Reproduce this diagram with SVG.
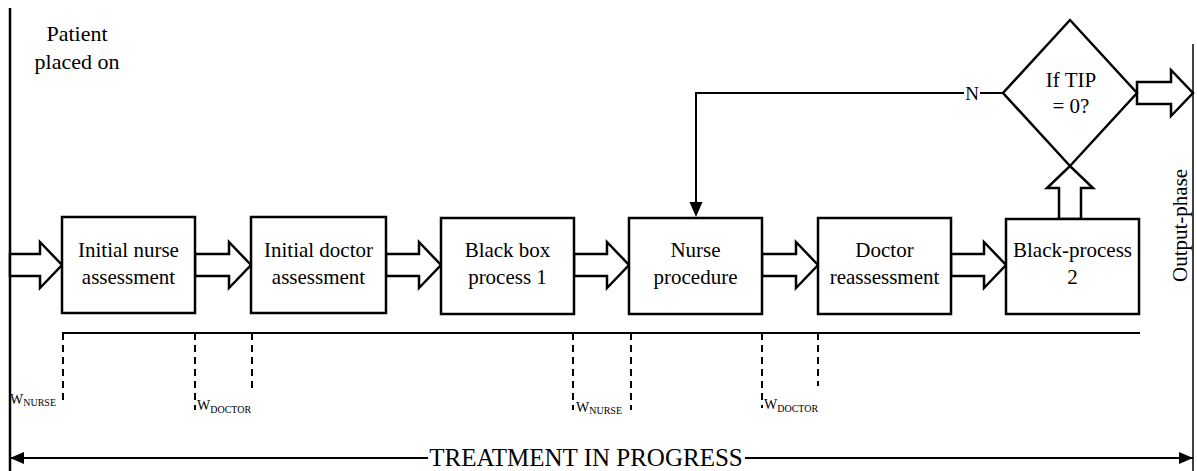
<svg xmlns="http://www.w3.org/2000/svg" width="1197" height="471" viewBox="0 0 1197 471" font-family="'Liberation Serif', 'DejaVu Serif', serif">
  <defs>
    <style>
      text { font-family: 'Liberation Serif', 'DejaVu Serif', serif; fill: #000; }
      .box { fill: #fff; stroke: #000; stroke-width: 2.5; }
      .blk { fill: #fff; stroke: #000; stroke-width: 2.5; stroke-linejoin: miter; }
      .lbl { font-size: 21px; text-anchor: middle; }
      .ln { fill: none; stroke: #000; stroke-width: 2; }
      .dash { fill: none; stroke: #000; stroke-width: 2; stroke-dasharray: 7 5; }
      .w { font-size: 14px; }
      .sub { font-size: 10px; }
    </style>
    <marker id="tip" viewBox="0 0 14 12" refX="14" refY="6" markerWidth="14" markerHeight="12" markerUnits="userSpaceOnUse" orient="auto-start-reverse">
      <path d="M0,0 L14,6 L0,12 Z" fill="#000"/>
    </marker>
  </defs>

  <rect width="1197" height="471" fill="#fff"/>

  <!-- frame lines -->
  <g id="frame">
    <line x1="10" y1="8" x2="10" y2="471" stroke="#000" stroke-width="2.5"/>
    <line x1="1193" y1="44" x2="1193" y2="471" stroke="#000" stroke-width="1.5"/>
  </g>

  <g id="start-label">
    <text x="77" y="41" font-size="22" text-anchor="middle">Patient</text>
    <text x="77" y="69" font-size="22" text-anchor="middle">placed on</text>
  </g>

  <g id="output-phase">
    <text transform="translate(1187,282) rotate(-90)" font-size="21">Output-phase</text>
  </g>

  <!-- connectors -->
  <g id="connectors">
    <polygon class="blk" points="10,254 40,254 40,242 62,265 40,288 40,276 10,276"/>
    <polygon class="blk" points="195,254 229,254 229,242 251,265 229,288 229,276 195,276"/>
    <polygon class="blk" points="386,254 419,254 419,242 441,265 419,288 419,276 386,276"/>
    <polygon class="blk" points="574,254 607,254 607,242 629,265 607,288 607,276 574,276"/>
    <polygon class="blk" points="762,254 796,254 796,242 818,265 796,288 796,276 762,276"/>
    <polygon class="blk" points="951,254 984,254 984,242 1006,265 984,288 984,276 951,276"/>
    <polygon class="blk" points="1059,219 1059,188 1047,188 1070,166 1093,188 1081,188 1081,219"/>
    <polygon class="blk" points="1137,82 1171,82 1171,70 1193,93 1171,116 1171,104 1137,104"/>

    <!-- loop back on N -->
    <polyline class="ln" points="964,93 696,93 696,203"/>
    <line class="ln" x1="980" y1="93" x2="1003" y2="93"/>
    <polygon points="689.5,202 702.5,202 696,217" fill="#000"/>
    <text x="972" y="100" font-size="19" text-anchor="middle">N</text>

    <!-- timeline -->
    <line class="ln" x1="62" y1="333" x2="1140" y2="333"/>
    <line class="dash" x1="63" y1="333" x2="63" y2="403"/>
    <line class="dash" x1="195" y1="333" x2="195" y2="410"/>
    <line class="dash" x1="252" y1="333" x2="252" y2="388"/>
    <line class="dash" x1="573" y1="333" x2="573" y2="410"/>
    <line class="dash" x1="631" y1="333" x2="631" y2="410"/>
    <line class="dash" x1="762" y1="333" x2="762" y2="408"/>
    <line class="dash" x1="818" y1="333" x2="818" y2="386"/>

    <!-- treatment span -->
    <line class="ln" x1="10" y1="458" x2="428" y2="458" marker-start="url(#tip)"/>
    <line class="ln" x1="745" y1="458" x2="1193" y2="458" marker-end="url(#tip)"/>
  </g>

  <g id="wait-labels">
    <text x="10" y="404"><tspan class="w">W</tspan><tspan class="sub" dy="2">NURSE</tspan></text>
    <text x="197" y="410"><tspan class="w">W</tspan><tspan class="sub" dy="3">DOCTOR</tspan></text>
    <text x="576" y="412"><tspan class="w">W</tspan><tspan class="sub" dy="2">NURSE</tspan></text>
    <text x="764" y="409"><tspan class="w">W</tspan><tspan class="sub" dy="3">DOCTOR</tspan></text>
  </g>

  <g id="treatment-label">
    <text x="586" y="466" font-size="25" text-anchor="middle">TREATMENT IN PROGRESS</text>
  </g>

  <!-- process nodes -->
  <g id="initial-nurse-assessment">
    <rect class="box" x="62" y="217" width="133" height="96"/>
    <text class="lbl" x="128.5" y="257">Initial nurse</text>
    <text class="lbl" x="128.5" y="284">assessment</text>
  </g>
  <g id="initial-doctor-assessment">
    <rect class="box" x="251" y="217" width="135" height="96"/>
    <text class="lbl" x="318.5" y="257">Initial doctor</text>
    <text class="lbl" x="318.5" y="284">assessment</text>
  </g>
  <g id="black-box-process-1">
    <rect class="box" x="441" y="218" width="133" height="96"/>
    <text class="lbl" x="507.5" y="257">Black box</text>
    <text class="lbl" x="507.5" y="284">process 1</text>
  </g>
  <g id="nurse-procedure">
    <rect class="box" x="629" y="218" width="133" height="96"/>
    <text class="lbl" x="695.5" y="257">Nurse</text>
    <text class="lbl" x="695.5" y="284">procedure</text>
  </g>
  <g id="doctor-reassessment">
    <rect class="box" x="818" y="218" width="133" height="96"/>
    <text class="lbl" x="884.5" y="257">Doctor</text>
    <text class="lbl" x="884.5" y="284">reassessment</text>
  </g>
  <g id="black-process-2">
    <rect class="box" x="1006" y="219" width="133" height="95"/>
    <text class="lbl" x="1072.5" y="257">Black-process</text>
    <text class="lbl" x="1072.5" y="284">2</text>
  </g>
  <g id="tip-check">
    <polygon class="box" points="1070,20 1137,93 1070,166 1003,93"/>
    <text class="lbl" x="1071" y="87">If TIP</text>
    <text class="lbl" x="1071" y="113">= 0?</text>
  </g>
</svg>
